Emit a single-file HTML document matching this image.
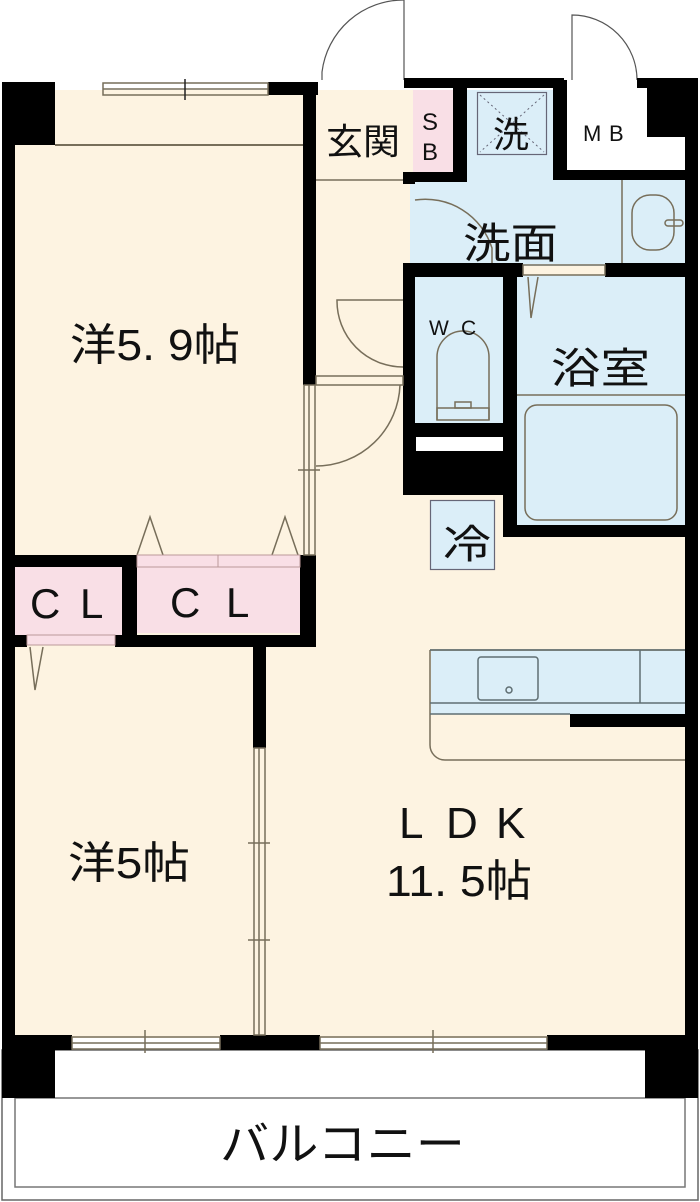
<!DOCTYPE html>
<html><head><meta charset="utf-8"><style>
html,body{margin:0;padding:0;background:#fff;}
svg{display:block;}
text{font-family:"Liberation Sans","Noto Sans CJK JP",sans-serif;fill:#111;}
</style></head><body>
<svg width="700" height="1202" viewBox="0 0 700 1202" xmlns="http://www.w3.org/2000/svg">
<rect width="700" height="1202" fill="#fff"/>
<rect x="2" y="1050" width="696" height="150" fill="none" stroke="#666" stroke-width="1.5"/>
<rect x="15" y="1098" width="670" height="89" fill="none" stroke="#777" stroke-width="1.5"/>
<rect x="15" y="90" width="670" height="948" fill="#fdf3e1"/>
<rect x="413" y="90" width="40" height="82" fill="#f9dfe6"/>
<rect x="453" y="90" width="100" height="92" fill="#dbeef8"/>
<rect x="410" y="178" width="275" height="88" fill="#dbeef8"/>
<rect x="415" y="275" width="90" height="150" fill="#dbeef8"/>
<rect x="515" y="275" width="170" height="252" fill="#dbeef8"/>
<rect x="565" y="90" width="120" height="88" fill="#fff"/>
<g fill="none" stroke="#555" stroke-width="1.2">
<path d="M322 80 L322 72 A82 82 0 0 1 404 0 L404 80"/>
<path d="M572 80 L572 15 A65 65 0 0 1 637 80"/>
</g>
<g fill="#000">
<rect x="2" y="82" width="53" height="63"/>
<rect x="2" y="82" width="13" height="1016"/>
<rect x="268" y="82" width="50" height="13"/>
<rect x="303" y="82" width="13" height="303"/>
<rect x="404" y="78" width="160" height="10"/>
<rect x="637" y="78" width="61" height="10"/>
<rect x="453" y="88" width="14" height="92"/>
<rect x="553" y="80" width="14" height="100"/>
<rect x="647" y="82" width="38" height="55"/>
<rect x="685" y="82" width="13" height="1016"/>
<rect x="405" y="172" width="62" height="10"/>
<rect x="565" y="170" width="133" height="10"/>
<rect x="403" y="172" width="12" height="12"/>
<rect x="403" y="263" width="120" height="14"/>
<rect x="605" y="263" width="93" height="14"/>
<rect x="403" y="263" width="12" height="232"/>
<rect x="503" y="263" width="14" height="272"/>
<rect x="403" y="423" width="114" height="72"/>
<rect x="503" y="525" width="195" height="12"/>
<rect x="2" y="555" width="135" height="12"/>
<rect x="300" y="555" width="16" height="92"/>
<rect x="122" y="555" width="15" height="92"/>
<rect x="2" y="635" width="25" height="12"/>
<rect x="115" y="635" width="201" height="12"/>
<rect x="253" y="645" width="13" height="103"/>
<rect x="570" y="713" width="115" height="14"/>
<rect x="2" y="1035" width="70" height="15"/>
<rect x="2" y="1035" width="53" height="63"/>
<rect x="220" y="1035" width="100" height="15"/>
<rect x="547" y="1035" width="151" height="15"/>
<rect x="645" y="1035" width="53" height="63"/>
</g>
<rect x="416" y="437" width="87" height="14" fill="#fff"/>
<g fill="none" stroke="#776e5a" stroke-width="1.5">
<rect x="103" y="83" width="165" height="12"/>
<line x1="103" y1="89" x2="268" y2="89"/>
<line x1="185" y1="79" x2="185" y2="100" stroke="#222"/>
<line x1="55" y1="145" x2="303" y2="145" stroke-width="2"/>
<rect x="72" y="1037" width="148" height="12"/>
<line x1="72" y1="1043" x2="220" y2="1043"/>
<line x1="145" y1="1030" x2="145" y2="1053"/>
<rect x="320" y="1037" width="227" height="12"/>
<line x1="320" y1="1043" x2="547" y2="1043"/>
<line x1="433" y1="1030" x2="433" y2="1053"/>
<rect x="304" y="385" width="11" height="170"/>
<line x1="309" y1="385" x2="309" y2="555"/>
<line x1="298" y1="470" x2="320" y2="470"/>
<rect x="254" y="748" width="11" height="287"/>
<line x1="259" y1="748" x2="259" y2="1035"/>
<line x1="248" y1="843" x2="270" y2="843"/>
<line x1="248" y1="940" x2="270" y2="940"/>
<line x1="316" y1="180" x2="403" y2="180"/>
<rect x="316" y="376" width="87" height="9" fill="#fdf3e1"/>
<path d="M403 300 L337 300 A66 66 0 0 0 403 367"/>
<path d="M400 385 A84 84 0 0 1 316 466"/>
<path d="M415 200 A70 70 0 0 1 492 248 L492 263"/>
<line x1="622" y1="180" x2="622" y2="263"/>
<rect x="632" y="195" width="42" height="55" rx="18"/>
<rect x="665" y="220" width="18" height="6" rx="3"/>
<rect x="523" y="265" width="82" height="10"/>
<path d="M528 277 L531 318 L538 277"/>
<line x1="517" y1="395" x2="685" y2="395"/>
<rect x="525" y="405" width="152" height="115" rx="12"/>
<path d="M437 420 L437 357 A26 26 0 0 1 489 357 L489 420"/>
<rect x="437" y="408" width="52" height="12"/>
<rect x="455" y="402" width="16" height="6"/>
<path d="M137 555 L150 517 L163 555"/>
<path d="M272 555 L285 517 L298 555"/>
<path d="M30 647 L35 690 L43 647"/>
<path d="M430 650 L685 650 M430 650 L430 745 A15 15 0 0 0 445 760 L685 760"/>
</g>
<rect x="431" y="651" width="254" height="63" fill="#dbeef8"/>
<g fill="none" stroke="#5f6e72" stroke-width="1.5">
<line x1="640" y1="650" x2="640" y2="703"/>
<line x1="430" y1="703" x2="685" y2="703"/>
<line x1="430" y1="714" x2="570" y2="714"/>
<rect x="478" y="657" width="60" height="43" rx="3"/>
<circle cx="509" cy="690" r="3"/>
<line x1="430" y1="650" x2="685" y2="650"/>
</g>
<rect x="15" y="567" width="107" height="68" fill="#f9dfe6"/>
<rect x="27" y="635" width="88" height="10" fill="#f9dfe6" stroke="#b99" stroke-width="1"/>
<rect x="137" y="567" width="163" height="66" fill="#f9dfe6"/>
<rect x="137" y="555" width="163" height="12" fill="#f9dfe6" stroke="#b99" stroke-width="1"/>
<line x1="218" y1="555" x2="218" y2="567" stroke="#b99"/>
<rect x="430.5" y="500.5" width="64" height="69" fill="#dbeef8" stroke="#667" stroke-width="1.2"/>
<rect x="477.5" y="92.5" width="69" height="62" fill="#dbeef8" stroke="#667" stroke-width="1.2"/>
<g stroke="#667" stroke-width="1" stroke-dasharray="2,3">
<line x1="480" y1="95" x2="544" y2="152"/><line x1="544" y1="95" x2="480" y2="152"/>
</g>
<text x="326" y="154" font-size="36" textLength="74" lengthAdjust="spacingAndGlyphs">玄関</text>
<text x="422" y="130" font-size="24">S</text>
<text x="422" y="160" font-size="24">B</text>
<text x="493" y="147" font-size="36">洗</text>
<text x="583" y="141" font-size="22">M</text><text x="609" y="141" font-size="22">B</text>
<text x="463" y="258" font-size="42" textLength="95" lengthAdjust="spacingAndGlyphs">洗面</text>
<text x="429" y="335" font-size="21">W</text><text x="461" y="335" font-size="21">C</text>
<text x="551" y="383" font-size="42" textLength="99" lengthAdjust="spacingAndGlyphs">浴室</text>
<text x="443" y="558" font-size="40" textLength="48" lengthAdjust="spacingAndGlyphs">冷</text>
<text x="70" y="360" font-size="44" textLength="170" lengthAdjust="spacingAndGlyphs">洋5. 9帖</text>
<text x="30" y="618" font-size="42">C</text><text x="80" y="618" font-size="42">L</text>
<text x="170" y="617" font-size="42">C</text><text x="226" y="617" font-size="42">L</text>
<text x="68" y="878" font-size="44" textLength="122" lengthAdjust="spacingAndGlyphs">洋5帖</text>
<text x="399" y="838" font-size="44">L</text><text x="446" y="838" font-size="44">D</text><text x="496" y="838" font-size="44">K</text>
<text x="386" y="896" font-size="44" textLength="146" lengthAdjust="spacingAndGlyphs">11. 5帖</text>
<text x="220" y="1160" font-size="46" textLength="245" lengthAdjust="spacingAndGlyphs">バルコニー</text>
</svg>
</body></html>
